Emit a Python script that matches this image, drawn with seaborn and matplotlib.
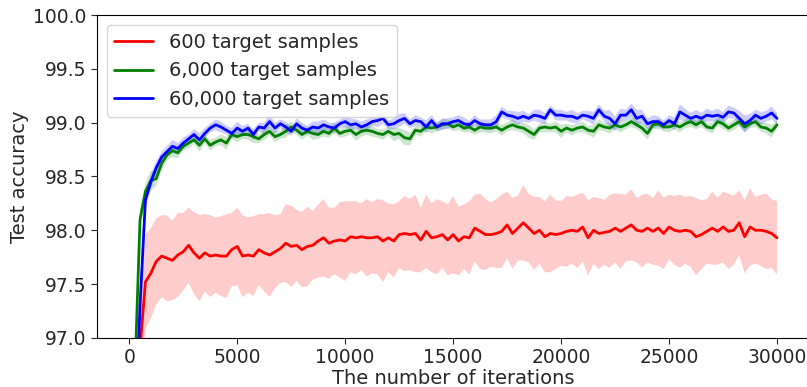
import numpy as np
import pandas as pd
import matplotlib
matplotlib.use("Agg")
import matplotlib.pyplot as plt
import seaborn as sns

########################## Data ##########################

iterations = list(range(0, 30001, 250))

labels = ["600 target samples", "6,000 target samples", "60,000 target samples"]
colors = ["red", "green", "blue"]

acc_600 = [
    85.00, 94.50, 96.90, 97.52, 97.60, 97.71, 97.76, 97.74, 97.72, 97.77,
    97.80, 97.86, 97.79, 97.74, 97.79, 97.76, 97.77, 97.76, 97.76, 97.82,
    97.85, 97.76, 97.77, 97.76, 97.82, 97.79, 97.77, 97.80, 97.83, 97.88,
    97.85, 97.86, 97.82, 97.85, 97.86, 97.90, 97.93, 97.88, 97.90, 97.91,
    97.90, 97.94, 97.93, 97.94, 97.93, 97.93, 97.94, 97.90, 97.93, 97.90,
    97.96, 97.97, 97.96, 97.97, 97.91, 97.99, 97.93, 97.94, 97.96, 97.91,
    97.96, 97.90, 97.94, 97.93, 98.02, 97.99, 97.96, 97.96, 97.97, 97.99,
    98.05, 97.97, 98.02, 98.07, 98.02, 97.97, 98.00, 97.94, 97.97, 97.96,
    97.97, 97.99, 98.00, 97.99, 98.03, 97.93, 98.00, 97.97, 97.98, 97.99,
    98.02, 97.99, 98.02, 98.05, 98.00, 97.99, 98.02, 97.99, 98.02, 97.97,
    98.03, 98.00, 97.99, 98.00, 97.99, 97.94, 97.96, 97.99, 98.02, 97.99,
    98.03, 97.99, 98.00, 98.07, 97.94, 98.03, 98.00, 98.00, 97.99, 97.97,
    97.93]

acc_6000 = [
    90.00, 96.60, 98.10, 98.36, 98.46, 98.48, 98.62, 98.70, 98.74, 98.72,
    98.78, 98.81, 98.84, 98.79, 98.85, 98.79, 98.82, 98.84, 98.81, 98.89,
    98.87, 98.89, 98.89, 98.87, 98.85, 98.89, 98.92, 98.87, 98.89, 98.92,
    98.96, 98.93, 98.89, 98.92, 98.90, 98.89, 98.92, 98.90, 98.95, 98.90,
    98.92, 98.93, 98.89, 98.92, 98.93, 98.92, 98.90, 98.89, 98.92, 98.89,
    98.90, 98.86, 98.85, 98.93, 98.92, 98.96, 98.95, 98.96, 98.98, 98.99,
    98.96, 98.98, 98.95, 98.96, 98.93, 98.96, 98.95, 98.95, 98.96, 98.93,
    98.96, 98.98, 98.96, 98.95, 98.92, 98.89, 98.95, 98.96, 98.95, 98.96,
    98.92, 98.95, 98.93, 98.95, 98.96, 98.93, 98.92, 98.98, 98.96, 98.95,
    98.98, 98.96, 98.98, 99.01, 98.98, 98.95, 98.90, 98.98, 98.99, 98.96,
    98.96, 98.98, 98.96, 98.99, 99.01, 98.98, 99.01, 98.96, 98.95, 99.01,
    98.99, 98.95, 98.98, 99.01, 98.96, 98.99, 99.01, 98.96, 98.95, 98.92,
    98.98]

acc_60000 = [
    88.00, 96.00, 97.30, 98.28, 98.45, 98.58, 98.68, 98.73, 98.78, 98.76,
    98.81, 98.85, 98.89, 98.84, 98.90, 98.95, 98.98, 98.96, 98.93, 98.90,
    98.95, 98.92, 98.95, 98.89, 98.96, 98.95, 99.01, 98.95, 98.99, 98.96,
    98.92, 98.99, 98.95, 98.93, 98.96, 98.95, 98.98, 98.96, 98.95, 98.99,
    99.01, 98.98, 98.99, 98.96, 98.98, 99.01, 99.02, 99.04, 98.98, 98.99,
    99.02, 99.04, 98.99, 99.02, 99.01, 98.96, 99.02, 98.96, 98.99, 98.99,
    99.01, 99.02, 98.99, 98.98, 99.02, 98.99, 98.98, 98.98, 99.01, 99.10,
    99.07, 99.06, 99.04, 99.06, 99.04, 99.07, 99.06, 99.04, 99.12, 99.07,
    99.07, 99.06, 99.06, 99.04, 99.07, 99.06, 99.04, 99.12, 99.06, 99.04,
    98.99, 99.07, 99.07, 99.12, 99.04, 99.06, 98.99, 99.01, 99.01, 98.98,
    99.02, 98.99, 99.10, 99.07, 99.04, 99.06, 99.04, 99.07, 99.06, 99.07,
    99.05, 99.10, 99.09, 99.04, 98.99, 99.02, 99.07, 99.04, 99.06, 99.09,
    99.04]

# spread across runs (shaded band = mean +/- sd)
sd_600 = [
    0.50, 0.50, 0.48, 0.44, 0.42, 0.40, 0.38, 0.40, 0.37, 0.39,
    0.36, 0.35, 0.38, 0.40, 0.36, 0.38, 0.35, 0.37, 0.39, 0.34,
    0.36, 0.38, 0.35, 0.37, 0.33, 0.36, 0.39, 0.34, 0.32, 0.36,
    0.38, 0.33, 0.35, 0.37, 0.32, 0.34, 0.36, 0.33, 0.31, 0.35,
    0.37, 0.33, 0.34, 0.31, 0.36, 0.33, 0.35, 0.38, 0.32, 0.34,
    0.31, 0.35, 0.33, 0.36, 0.30, 0.34, 0.32, 0.35, 0.31, 0.33,
    0.36, 0.32, 0.30, 0.34, 0.31, 0.35, 0.33, 0.30, 0.32, 0.34,
    0.31, 0.33, 0.30, 0.35, 0.32, 0.34, 0.31, 0.33, 0.36, 0.32,
    0.30, 0.33, 0.31, 0.34, 0.32, 0.35, 0.31, 0.33, 0.30, 0.34,
    0.32, 0.35, 0.31, 0.33, 0.30, 0.34, 0.32, 0.31, 0.35, 0.33,
    0.30, 0.32, 0.34, 0.31, 0.33, 0.36, 0.32, 0.30, 0.34, 0.31,
    0.33, 0.35, 0.32, 0.30, 0.34, 0.36, 0.31, 0.33, 0.35, 0.32,
    0.34]

sd_6000 = [
    0.30, 0.20, 0.10, 0.08, 0.09, 0.07, 0.06, 0.05, 0.06, 0.05,
    0.04, 0.05, 0.04, 0.06, 0.04, 0.05, 0.04, 0.05, 0.06, 0.04,
    0.05, 0.04, 0.05, 0.06, 0.04, 0.05, 0.04, 0.05, 0.04, 0.06,
    0.05, 0.04, 0.05, 0.04, 0.06, 0.04, 0.05, 0.04, 0.05, 0.04,
    0.05, 0.04, 0.06, 0.05, 0.04, 0.05, 0.04, 0.05, 0.04, 0.06,
    0.05, 0.07, 0.06, 0.04, 0.05, 0.04, 0.05, 0.04, 0.05, 0.04,
    0.04, 0.05, 0.04, 0.05, 0.04, 0.05, 0.04, 0.05, 0.04, 0.05,
    0.04, 0.05, 0.04, 0.05, 0.06, 0.05, 0.04, 0.05, 0.04, 0.05,
    0.06, 0.04, 0.05, 0.04, 0.05, 0.04, 0.06, 0.05, 0.04, 0.05,
    0.04, 0.05, 0.04, 0.05, 0.04, 0.05, 0.06, 0.04, 0.05, 0.04,
    0.05, 0.04, 0.05, 0.04, 0.05, 0.04, 0.05, 0.04, 0.05, 0.04,
    0.05, 0.04, 0.05, 0.04, 0.05, 0.04, 0.05, 0.04, 0.05, 0.06,
    0.04]

sd_60000 = [
    0.30, 0.20, 0.12, 0.08, 0.07, 0.06, 0.05, 0.05, 0.06, 0.05,
    0.05, 0.04, 0.05, 0.06, 0.05, 0.04, 0.05, 0.05, 0.04, 0.05,
    0.06, 0.05, 0.04, 0.05, 0.04, 0.05, 0.06, 0.05, 0.04, 0.05,
    0.04, 0.05, 0.05, 0.04, 0.05, 0.06, 0.05, 0.04, 0.05, 0.04,
    0.05, 0.06, 0.04, 0.05, 0.05, 0.04, 0.06, 0.05, 0.04, 0.05,
    0.06, 0.05, 0.04, 0.05, 0.04, 0.06, 0.05, 0.04, 0.05, 0.05,
    0.04, 0.05, 0.06, 0.04, 0.05, 0.04, 0.05, 0.05, 0.06, 0.05,
    0.04, 0.05, 0.06, 0.05, 0.04, 0.05, 0.06, 0.05, 0.04, 0.05,
    0.05, 0.04, 0.06, 0.05, 0.04, 0.05, 0.06, 0.05, 0.05, 0.08,
    0.07, 0.06, 0.05, 0.06, 0.08, 0.06, 0.05, 0.06, 0.05, 0.04,
    0.05, 0.06, 0.07, 0.06, 0.05, 0.06, 0.05, 0.06, 0.05, 0.06,
    0.05, 0.06, 0.05, 0.07, 0.08, 0.06, 0.05, 0.06, 0.05, 0.06,
    0.05]

means = [acc_600, acc_6000, acc_60000]
sds = [sd_600, sd_6000, sd_60000]

########################## Plot ##########################

sns.set_style("ticks")
plt.rcParams['font.family'] = ['DejaVu Sans']

fig = plt.figure(figsize=(8.07, 3.87), dpi=100)
ax = fig.add_axes([0.120, 0.127, 0.883, 0.834])

for label, color, mean, sd in zip(labels, colors, means, sds):
    df = pd.DataFrame({'iteration': iterations, 'acc': mean, 'sd': sd})
    ax.fill_between(df.iteration, df.acc - df.sd, df.acc + df.sd,
                    color=color, alpha=0.2, linewidth=0)
    sns.lineplot(data=df, x='iteration', y='acc', color=color,
                 linewidth=2, label=label, ax=ax)

ax.set_ylim(97.0, 100.0)
ax.set_xlim(-1500, 31500)
ax.set_yticks([97.0, 97.5, 98.0, 98.5, 99.0, 99.5, 100.0])
ax.set_yticklabels(['97.0', '97.5', '98.0', '98.5', '99.0', '99.5', '100.0'])
ax.set_xticks([0, 5000, 10000, 15000, 20000, 25000, 30000])
ax.tick_params(axis='both', labelsize=13.5, length=4)
ax.set_xlabel('The number of iterations', fontsize=14, labelpad=1)
ax.set_ylabel('Test accuracy', fontsize=14, labelpad=3)
for s in ax.spines.values():
    s.set_color('black')
    s.set_linewidth(0.8)

ax.legend(loc='upper left', fontsize=14, framealpha=0.8)

fig.savefig('out.png', dpi=100)
